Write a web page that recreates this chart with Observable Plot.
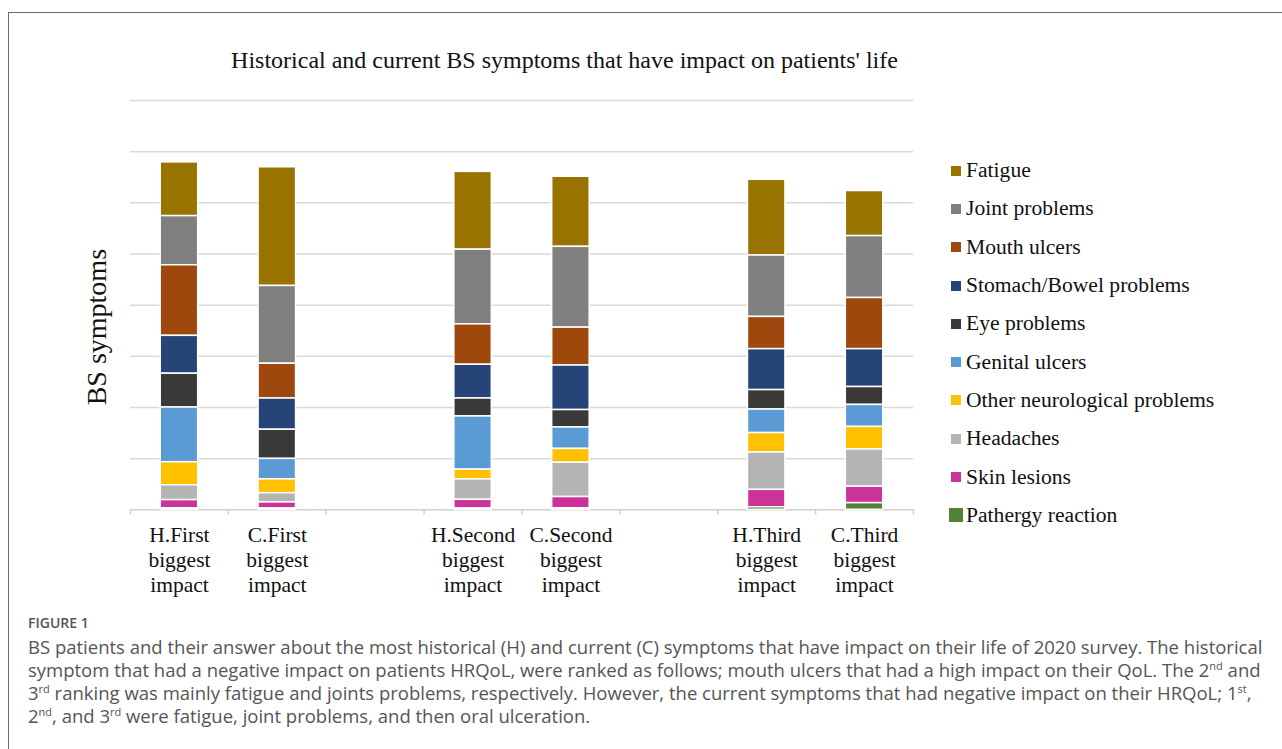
<!DOCTYPE html>
<html>
<head>
<meta charset="utf-8">
<script src="https://cdn.jsdelivr.net/npm/d3@7"></script>
<script src="https://cdn.jsdelivr.net/npm/@observablehq/plot@0.6"></script>
<style>
  html, body { margin: 0; padding: 0; background: #fff; }
  body { width: 1282px; height: 749px; position: relative; overflow: hidden; }
  #frame { position: absolute; left: 8px; top: 12px; width: 1290px; height: 760px;
           border-top: 1.5px solid #6a6a6a; border-left: 1.5px solid #6a6a6a; }
  #title { position: absolute; left: 0; width: 1129px; top: 47px; text-align: center;
           font-family: "Liberation Serif", "Times New Roman", serif; font-size: 24px; color: #111; white-space: nowrap; }
  #chart { position: absolute; left: 0; top: 90px; }
  #legend { position: absolute; left: 949px; top: 151.5px; font-family: "Liberation Serif", "Times New Roman", serif;
            font-size: 21.6px; color: #111; }
  .row { height: 38.3px; display: flex; align-items: center; white-space: nowrap; }
  .sw { width: 10px; height: 10px; margin-left: 2px; margin-right: 5px; }
  .sw.big { width: 14px; height: 14px; margin-left: 0; margin-right: 3px; }
  #caption { position: absolute; left: 28px; top: 613px; font-family: "Open Sans", sans-serif; color: #555;
             font-size: 18.5px; line-height: 23px; white-space: nowrap; }
  #caption .fig { font-size: 14px; font-weight: 600; color: #555; line-height: 20px; margin-bottom: 2px; }
  sup { font-size: 11px; line-height: 0; }
</style>
</head>
<body>
<div id="frame"></div>
<div id="title">Historical and current BS symptoms that have impact on patients' life</div>
<div id="chart"></div>
<div id="legend"></div>
<div id="caption">
  <div class="fig">FIGURE 1</div>
  BS patients and their answer about the most historical (H) and current (C) symptoms that have impact on their life of 2020 survey. The historical<br>
  symptom that had a negative impact on patients HRQoL, were ranked as follows; mouth ulcers that had a high impact on their QoL. The 2<sup>nd</sup> and<br>
  3<sup>rd</sup> ranking was mainly fatigue and joints problems, respectively. However, the current symptoms that had negative impact on their HRQoL; 1<sup>st</sup>,<br>
  2<sup>nd</sup>, and 3<sup>rd</sup> were fatigue, joint problems, and then oral ulceration.
</div>
<script>
// ---- data ----
const slots = ["H.First\nbiggest\nimpact", "C.First\nbiggest\nimpact", "gap1",
               "H.Second\nbiggest\nimpact", "C.Second\nbiggest\nimpact", "gap2",
               "H.Third\nbiggest\nimpact", "C.Third\nbiggest\nimpact"];
const categories = slots.filter(d => !d.startsWith("gap"));
const symptoms = ["Fatigue", "Joint problems", "Mouth ulcers", "Stomach/Bowel problems", "Eye problems",
                  "Genital ulcers", "Other neurological problems", "Headaches", "Skin lesions", "Pathergy reaction"];
const colors = ["#997300", "#7f7f7f", "#9e480e", "#264478", "#3b3838",
                "#5b9bd5", "#ffc000", "#b4b4b4", "#cc3399", "#548235"];
// values per symptom, in the order of `categories`
const fatigue  = [10.5, 23.2, 15.2, 13.7, 14.8, 8.8];
const joint    = [9.6, 15.2, 14.6, 15.8, 12.0, 12.1];
const mouth    = [13.8, 6.8, 7.9, 7.4, 6.3, 10.0];
const stomach  = [7.4, 6.1, 6.6, 8.7, 8.0, 7.4];
const eye      = [6.6, 5.7, 3.5, 3.4, 3.8, 3.5];
const genital  = [10.7, 4.0, 10.4, 4.2, 4.6, 4.3];
const neuro    = [4.5, 2.7, 1.9, 2.7, 3.8, 4.4];
const headache = [2.9, 1.8, 4.0, 6.7, 7.3, 7.3];
const skin     = [1.6, 1.2, 1.7, 2.2, 3.4, 3.2];
const pathergy = [0.3, 0.25, 0.25, 0.3, 0.5, 1.3];
const yTicks = [10, 20, 30, 40, 50, 60, 70, 80];

const series = [fatigue, joint, mouth, stomach, eye, genital, neuro, headache, skin, pathergy];
const table = [];
symptoms.forEach((s, i) => categories.forEach((c, j) => table.push({category: c, symptom: s, value: series[i][j]})));
const stackOrder = symptoms.slice().reverse(); // bottom to top

const W = 1282, H = 530, mL = 130, mR = 369;
const step = (W - mL - mR) / slots.length;
const serif = "Liberation Serif, Times New Roman, serif";

const chart = Plot.plot({
  width: W, height: H,
  marginLeft: mL, marginRight: mR, marginTop: 10, marginBottom: 110.7,
  style: {fontFamily: serif, background: "transparent", overflow: "visible"},
  x: {domain: slots, paddingInner: 0.617, paddingOuter: 0.3085, round: false, axis: null},
  y: {domain: [0, 80], axis: null},
  color: {domain: symptoms, range: colors},
  marks: [
    Plot.ruleY(yTicks, {stroke: "#d9d9d9", strokeWidth: 1.5}),
    Plot.ruleY([0], {stroke: "#d0d0d0", strokeWidth: 1.5}),
    Plot.ruleX(slots, {x: d => d, y1: 0, y2: -1, dx: -step / 2, stroke: "#d0d0d0", strokeWidth: 1.5}),
    Plot.ruleX([slots[slots.length - 1]], {x: d => d, y1: 0, y2: -1, dx: step / 2, stroke: "#d0d0d0", strokeWidth: 1.5}),
    Plot.barY(table, Plot.stackY({x: "category", y: "value", fill: "symptom", order: stackOrder,
      stroke: "white", strokeWidth: 1.5})),
    Plot.axisX({ticks: categories, tickSize: 0, tickPadding: 14, fontSize: 21.5, lineHeight: 1.17,
      fill: "#111", fontFamily: serif, label: null}),
    Plot.text(["BS symptoms"], {text: d => d, frameAnchor: "left", textAnchor: "middle", rotate: -90, dx: -33, dy: 22,
      fontSize: 28, fill: "#111", fontFamily: serif})
  ]
});
document.getElementById("chart").appendChild(chart);

// legend
const legend = document.getElementById("legend");
symptoms.forEach((s, i) => {
  const row = document.createElement("div");
  row.className = "row";
  const sw = document.createElement("span");
  sw.className = "sw" + (s === "Pathergy reaction" ? " big" : "");
  sw.style.background = colors[i];
  const t = document.createElement("span");
  t.textContent = s;
  row.appendChild(sw); row.appendChild(t);
  legend.appendChild(row);
});
</script>
</body>
</html>
